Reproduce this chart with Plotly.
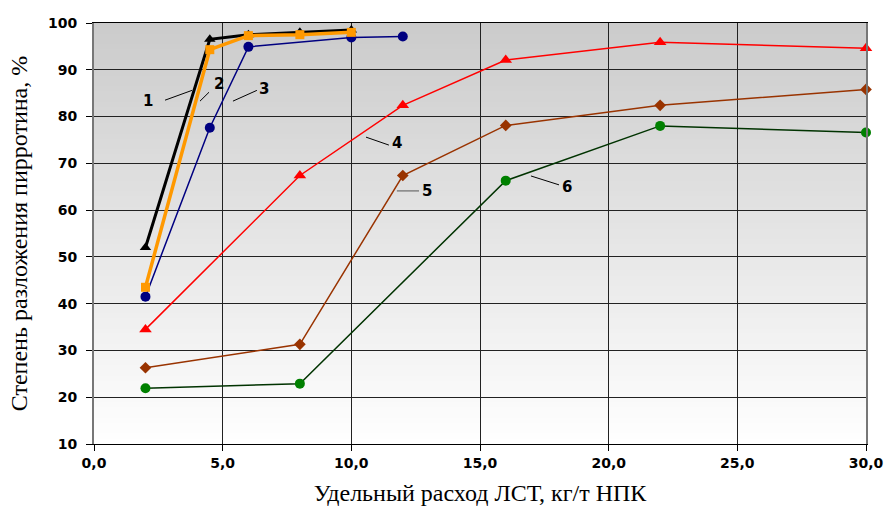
import plotly.graph_objects as go

# ---- data ----
x1 = [2, 4.5, 6, 8, 10]
y1 = [52, 96.5, 97.5, 98, 98.5]
x2 = [2, 4.5, 6, 8, 10]
y2 = [43.5, 94.3, 97.3, 97.5, 98]
x3 = [2, 4.5, 6, 10, 12]
y3 = [41.5, 77.6, 94.9, 96.9, 97.1]
x4 = [2, 8, 12, 16, 22, 30]
y4 = [34.5, 67.4, 82.4, 92.1, 95.9, 94.6]
x5 = [2, 8, 12, 16, 22, 30]
y5 = [26.3, 31.3, 67.4, 78.1, 82.4, 85.8]
x6 = [2, 8, 16, 22, 30]
y6 = [21.9, 22.9, 66.3, 78.0, 76.6]

x_ticks = [0, 5, 10, 15, 20, 25, 30]
x_tick_labels = ["0,0", "5,0", "10,0", "15,0", "20,0", "25,0", "30,0"]
y_ticks = [10, 20, 30, 40, 50, 60, 70, 80, 90, 100]

series_labels = ["1", "2", "3", "4", "5", "6"]

fig = go.Figure()

def add(x, y, color, lw, symbol, msize, mcolor=None):
    fig.add_trace(go.Scatter(
        x=x, y=y, mode="lines+markers", cliponaxis=False,
        line=dict(color=color, width=lw),
        marker=dict(symbol=symbol, size=msize, color=mcolor or color, line=dict(width=0)),
        showlegend=False, hoverinfo="x+y"))

add(x6, y6, "#003300", 1.5, "circle", 10, "#008000")
add(x5, y5, "#993300", 1.5, "diamond", 9)
add(x4, y4, "#FF0000", 1.5, "triangle-up", 11)
add(x3, y3, "#000080", 1.5, "circle", 10)
add(x1, y1, "#000000", 3, "triangle-up", 10)
add(x2, y2, "#FF9900", 3.5, "square", 9)

# gradient background
shapes = []
n = 80
top = (203, 203, 203)
for i in range(n):
    t0 = i / n
    t1 = (i + 1) / n
    f = (1 - (t0 + t1) / 2)  # 0 at top, 1 at bottom
    c = [int(round(top[k] + (255 - top[k]) * f)) for k in range(3)]
    shapes.append(dict(type="rect", xref="paper", yref="paper", x0=0, x1=1,
                       y0=t0, y1=t1 + 0.002, layer="below",
                       fillcolor="rgb(%d,%d,%d)" % tuple(c), line=dict(width=0)))

# leader lines and labels (annotation positions)
label_text_pos = [(2.10, 83.3), (4.86, 86.9), (6.60, 85.9), (11.77, 74.3), (12.94, 64.1), (18.38, 64.9)]
leader_lines = [((2.76, 83.5), (3.81, 85.6)), ((4.12, 83.3), (4.47, 85.2)),
                ((5.40, 83.3), (6.33, 85.6)), ((10.57, 75.6), (11.46, 73.9)),
                ((11.77, 64.1), (12.63, 64.1)), ((16.98, 67.3), (18.07, 65.4))]
leader_colors = ["#000", "#000", "#000", "#000", "#555", "#000"]
for (a, b), col in zip(leader_lines, leader_colors):
    shapes.append(dict(type="line", xref="x", yref="y", x0=a[0], y0=a[1], x1=b[0], y1=b[1],
                       line=dict(color=col, width=1), layer="above"))

annotations = []
for lab, (lx, ly) in zip(series_labels, label_text_pos):
    annotations.append(dict(x=lx, y=ly, xref="x", yref="y", text="<b>%s</b>" % lab,
                            showarrow=False, font=dict(family="DejaVu Sans", size=15, color="#000")))

tickfont = dict(family="DejaVu Sans", size=14, color="#000", weight="bold")

fig.update_layout(
    width=886, height=518,
    margin=dict(l=94, r=20, t=23, b=74, autoexpand=False),
    paper_bgcolor="white", plot_bgcolor="rgba(0,0,0,0)",
    shapes=shapes, annotations=annotations,
    xaxis=dict(range=[0, 30], tickvals=x_ticks, ticktext=x_tick_labels,
               automargin=False,
               showgrid=True, gridcolor="#222", gridwidth=1, zeroline=False,
               showline=True, linecolor="#000", linewidth=1, mirror=True,
               ticks="outside", ticklen=6, tickcolor="#000",
               tickfont=tickfont,
               title=dict(text="Удельный расход ЛСТ, кг/т НПК", standoff=14,
                          font=dict(family="Liberation Serif, Times New Roman", size=24, color="#000"))),
    yaxis=dict(range=[10, 100], tickvals=y_ticks, automargin=False,
               showgrid=True, gridcolor="#222", gridwidth=1, zeroline=False,
               showline=True, linecolor="#777", linewidth=2, mirror=True,
               ticks="outside", ticklen=6, tickcolor="#000", ticklabelstandoff=6,
               tickfont=tickfont,
               title=dict(text="Степень разложения пирротина, %", standoff=14,
                          font=dict(family="Liberation Serif, Times New Roman", size=24, color="#000"))),
)

fig.write_html("out.html", config={"displayModeBar": False},
               post_script="document.body.style.margin='0';document.body.style.padding='0';")
